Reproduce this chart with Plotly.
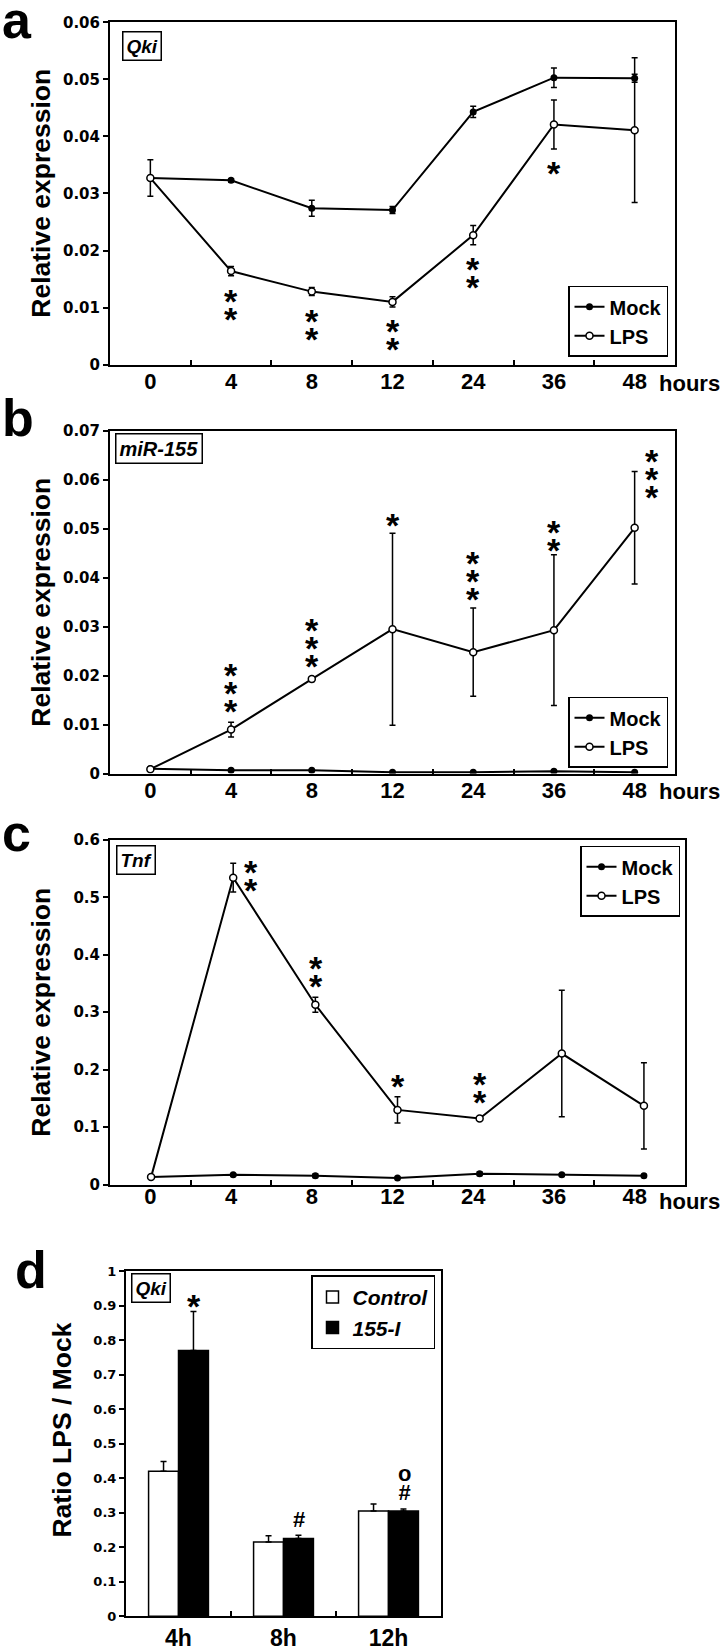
import plotly.graph_objects as go

W, H = 723, 1651

hours = ['0', '4', '8', '12', '24', '36', '48']

# Panel a: Qki
a_mock = [0.0327, 0.0323, 0.0274, 0.0271, 0.0443, 0.0503, 0.0502]
a_mock_err = [0.0003, 0.0003, 0.0014, 0.0006, 0.0010, 0.0017, 0.0007]
a_lps = [0.0327, 0.0164, 0.0128, 0.0110, 0.0227, 0.0421, 0.0411]
a_lps_err = [0.0032, 0.0008, 0.0007, 0.0009, 0.0017, 0.0043, 0.0127]
a_sig = ['', '**', '**', '**', '**', '*', '']

# Panel b: miR-155
b_mock = [0.0010, 0.0007, 0.0007, 0.0003, 0.0003, 0.0005, 0.0003]
b_mock_err = [0.0002, 0.0001, 0.0001, 0.0001, 0.0001, 0.0001, 0.0001]
b_lps = [0.0009, 0.0090, 0.0193, 0.0295, 0.0248, 0.0293, 0.0502]
b_lps_err = [0.0002, 0.0015, 0.0005, 0.0196, 0.0090, 0.0154, 0.0115]
b_sig = ['', '***', '***', '*', '***', '**', '***']

# Panel c: Tnf
c_mock = [0.013, 0.017, 0.0155, 0.0115, 0.019, 0.017, 0.0155]
c_mock_err = [0.001, 0.002, 0.003, 0.001, 0.003, 0.002, 0.002]
c_lps = [0.013, 0.534, 0.313, 0.130, 0.115, 0.228, 0.137]
c_lps_err = [0.002, 0.025, 0.013, 0.023, 0.003, 0.110, 0.075]
c_sig = ['', '**', '**', '*', '**', '', '']

# Panel d: ratio LPS / Mock
d_times = ['4h', '8h', '12h']
d_control = [0.42, 0.215, 0.305]
d_control_err = [0.028, 0.018, 0.020]
d_155i = [0.77, 0.225, 0.305]
d_155i_err = [0.113, 0.010, 0.006]
d_marks = [['*'], ['#'], ['o', '#']]

BOLD = 'Liberation Sans, Arial, sans-serif'
DJV = 'DejaVu Sans, sans-serif'


def px(x):
    return x / W


def py(y):
    return 1 - y / H


fig = go.Figure()

panels = [
    ('x', 'y', a_mock, a_mock_err, a_lps, a_lps_err, 'legend'),
    ('x2', 'y2', b_mock, b_mock_err, b_lps, b_lps_err, 'legend2'),
    ('x3', 'y3', c_mock, c_mock_err, c_lps, c_lps_err, 'legend3'),
]

for xa, ya, mock, mock_err, lps, lps_err, leg in panels:
    fig.add_trace(go.Scatter(
        x=hours, y=mock, xaxis=xa, yaxis=ya, name='Mock', legend=leg,
        mode='lines+markers',
        line=dict(color='black', width=2),
        marker=dict(symbol='circle', size=7, color='black'),
        error_y=dict(type='data', array=mock_err, color='black', thickness=1.5, width=3),
    ))
    fig.add_trace(go.Scatter(
        x=hours, y=lps, xaxis=xa, yaxis=ya, name='LPS', legend=leg,
        mode='lines+markers',
        line=dict(color='black', width=2),
        marker=dict(symbol='circle', size=7, color='white', line=dict(color='black', width=1.5)),
        error_y=dict(type='data', array=lps_err, color='black', thickness=1.5, width=3),
    ))

# carrier trace so the (slightly narrower) hour-label axis of panel c is drawn
fig.add_trace(go.Scatter(
    x=list(range(len(hours))), y=[None] * len(hours), xaxis='x5', yaxis='y3',
    mode='markers', marker=dict(opacity=0), showlegend=False, hoverinfo='skip',
))

fig.add_trace(go.Bar(
    x=d_times, y=d_control, xaxis='x4', yaxis='y4', name='Control', legend='legend4',
    marker=dict(color='white', line=dict(color='black', width=1.5)),
    error_y=dict(type='data', array=d_control_err, arrayminus=[0, 0, 0], symmetric=False,
                 color='black', thickness=1.5, width=3),
))
fig.add_trace(go.Bar(
    x=d_times, y=d_155i, xaxis='x4', yaxis='y4', name='155-I', legend='legend4',
    marker=dict(color='black', line=dict(color='black', width=1.5)),
    error_y=dict(type='data', array=d_155i_err, arrayminus=[0, 0, 0], symmetric=False,
                 color='black', thickness=1.5, width=3),
))

xdoms = [(110, 675), (110, 675), (110, 685), (126, 441)]
ydoms = [(13.5, 360), (427, 774), (841, 1190), (1277.5, 1627)]
yranges = [(0, 0.06, 0.01), (0, 0.07, 0.01), (0, 0.6, 0.1), (0, 1.0, 0.1)]
ncat = [len(hours)] * 3 + [len(d_times)]

layout = dict(
    width=W, height=H, margin=dict(l=0, r=0, t=0, b=0),
    plot_bgcolor='rgba(0,0,0,0)', paper_bgcolor='white', showlegend=True,
    barmode='group', bargap=0.43, bargroupgap=0,
)

for i in range(4):
    sfx = '' if i == 0 else str(i + 1)
    x0, x1 = xdoms[i]
    y0, y1 = ydoms[i]
    r0, r1, dt = yranges[i]
    layout['xaxis' + sfx] = dict(
        domain=[px(x0), px(x1)], anchor='y' + sfx, type='category',
        range=[-0.5, ncat[i] - 0.5], tickangle=0,
        showline=True, linecolor='black', linewidth=2, mirror=True,
        ticks='inside', tickson='boundaries', ticklen=5, tickwidth=1.5, tickcolor='black',
        showgrid=False, zeroline=False,
        tickfont=dict(family=BOLD, size=23 if i == 3 else 22, color='black', weight='bold'),
        ticklabelstandoff=0,
    )
    layout['yaxis' + sfx] = dict(
        domain=[py(y1), py(y0)], anchor='x' + sfx, range=[r0, r1], dtick=dt, tick0=0,
        showline=True, linecolor='black', linewidth=2, mirror=True,
        ticks='outside', ticklen=5, tickwidth=1.5, tickcolor='black',
        showgrid=False, zeroline=False,
        tickfont=dict(family=DJV, size=13 if i == 3 else 15, color='black', weight='bold'),
    )

# panel c: in the original the time labels sit on a slightly narrower scale than the data
layout['xaxis3'].update(showticklabels=False, ticks='')
layout['xaxis5'] = dict(
    domain=[px(110), px(675)], anchor='y3', type='linear',
    range=[-0.5, len(hours) - 0.5], tickmode='array',
    tickvals=list(range(len(hours))), ticktext=hours, ticks='', tickangle=0,
    minor=dict(tickmode='array', tickvals=[k + 0.5 for k in range(len(hours) - 1)],
               ticks='inside', ticklen=5, tickwidth=1.5, tickcolor='black'),
    showline=False, showgrid=False, zeroline=False,
    tickfont=dict(family=BOLD, size=22, color='black', weight='bold'),
    ticklabelstandoff=0,
)

legfont = dict(family=BOLD, size=20, color='black', weight='bold')
layout['legend'] = dict(x=px(668), y=py(352), xanchor='right', yanchor='bottom',
                        bordercolor='black', borderwidth=1.5, bgcolor='white',
                        font=legfont, itemwidth=30, tracegroupgap=0)
layout['legend2'] = dict(x=px(668), y=py(768), xanchor='right', yanchor='bottom',
                         bordercolor='black', borderwidth=1.5, bgcolor='white',
                         font=legfont, itemwidth=30)
layout['legend3'] = dict(x=px(680), y=py(847), xanchor='right', yanchor='top',
                         bordercolor='black', borderwidth=1.5, bgcolor='white',
                         font=legfont, itemwidth=30)
layout['legend4'] = dict(x=px(435), y=py(1282), xanchor='right', yanchor='top',
                         bordercolor='black', borderwidth=1.5, bgcolor='white',
                         font=dict(family=BOLD, size=21, color='black', weight='bold', style='italic'),
                         itemwidth=30)

fig.update_layout(**layout)
# pull the hour labels of the line panels a little closer to the axis
for ax in ('xaxis', 'xaxis2', 'xaxis5'):
    try:
        fig.layout[ax].ticklabelstandoff = -4
    except (ValueError, TypeError):
        pass

ann = []

# panel letters
for letter, xl, yc in [('a', 0, 11), ('b', 0, 414), ('c', 0, 834), ('d', 13, 1276)]:
    ann.append(dict(text=letter, x=px(xl), y=py(yc), xref='paper', yref='paper',
                    xanchor='left', yanchor='middle', showarrow=False,
                    font=dict(family=BOLD, size=52, color='black', weight='bold')))

# y axis titles
for txt, xc, yc in [('Relative expression', 41, 187),
                    ('Relative expression', 41, 601),
                    ('Relative expression', 41, 1016),
                    ('Ratio LPS / Mock', 62, 1439)]:
    ann.append(dict(text=txt, x=px(xc), y=py(yc), xref='paper', yref='paper',
                    xanchor='center', yanchor='middle', showarrow=False, textangle=-90,
                    font=dict(family=BOLD, size=26.5, color='black', weight='bold')))

# "hours" labels
for yc in [379, 792, 1207]:
    ann.append(dict(text='hours', x=px(657), y=py(yc), xref='paper', yref='paper',
                    xanchor='left', yanchor='middle', showarrow=False,
                    font=dict(family=BOLD, size=22, color='black', weight='bold')))

# gene name boxes
for txt, xl, yc in [('Qki', 122, 37), ('miR-155', 115, 445), ('Tnf', 116, 861.5), ('Qki', 131, 1294.5)]:
    ann.append(dict(text=txt, x=px(xl), y=py(yc), xref='paper', yref='paper',
                    xanchor='left', yanchor='middle', showarrow=False,
                    bordercolor='black', borderwidth=1.5, borderpad=3, bgcolor='white',
                    font=dict(family=BOLD, size=19 if txt != 'miR-155' else 20, color='black',
                              weight='bold', style='italic')))

STAR = 34
STAR_DY = 8    # glyph centre of '*' sits above the text-box middle
STEP = 18      # vertical pitch of stacked stars (px)
LINE_FONT = STEP / 1.3   # outer font size giving that line pitch


def stack(sym, n, size):
    return '<br>'.join(['<span style="font-size:%dpx">%s</span>' % (size, sym)] * n)


def star_anns(xr, yr, vals, errs, sigs, direction, gap, xshift=None, center=None):
    out = []
    for i, (v, e, s) in enumerate(zip(vals, errs, sigs)):
        n = len(s)
        if n == 0:
            continue
        xs = 0 if xshift is None else xshift[i]
        if center is not None and center[i]:
            base = v + e * center[i]
            off = 0
        elif direction == 'below':
            base = v - e
            off = -(gap[i] + (n - 1) / 2 * STEP)
        else:
            base = v + e
            off = gap[i] + (n - 1) / 2 * STEP
        out.append(dict(text=stack('*', n, STAR), x=i, y=base, xref=xr, yref=yr, showarrow=False,
                        xanchor='center', yanchor='middle', xshift=xs, yshift=off - STAR_DY,
                        font=dict(family=BOLD, size=LINE_FONT, color='black', weight='bold')))
    return out


ann += star_anns('x', 'y', a_lps, a_lps_err, a_sig, 'below',
                 gap=[17, 17, 17, 16, 16, 16, 16])
ann += star_anns('x2', 'y2', b_lps, b_lps_err, b_sig, 'above',
                 gap=[19, 19, 19, 16, 17, 13, 0],
                 xshift=[0, 0, 0, 0, 0, 0, 17], center=[0, 0, 0, 0, 0, 0, 1])
ann += star_anns('x3', 'y3', c_lps, c_lps_err, c_sig, 'above',
                 gap=[0, 19, 19, 19, 23, 0, 0],
                 xshift=[0, 18, 1, 0, 0, 0, 0], center=[0, 0.3, 0, 0, 0, 0, 0])

# panel d marks above 155-I bars (offset to the 155-I bar of each group)
for i, (v, e, marks) in enumerate(zip(d_155i, d_155i_err, d_marks)):
    if marks == ['*']:
        ann.append(dict(text='*', x=i + 0.15, y=v + e, xref='x4', yref='y4', showarrow=False,
                        xanchor='center', yanchor='middle', yshift=13 - STAR_DY,
                        font=dict(family=BOLD, size=STAR, color='black', weight='bold')))
    else:
        n = len(marks)
        txt = '<br>'.join('<span style="font-size:22px">%s</span>' % m for m in marks)
        ann.append(dict(text=txt, x=i + 0.15, y=v + e, xref='x4', yref='y4', showarrow=False,
                        xanchor='center', yanchor='middle', yshift=16 + (n - 1) / 2 * 19,
                        font=dict(family=BOLD, size=19 / 1.3, color='black', weight='bold')))

fig.update_layout(annotations=ann)

fig.write_html('out.html', config={'displayModeBar': False},
               post_script="document.body.style.margin='0px';document.body.style.overflow='hidden';")
